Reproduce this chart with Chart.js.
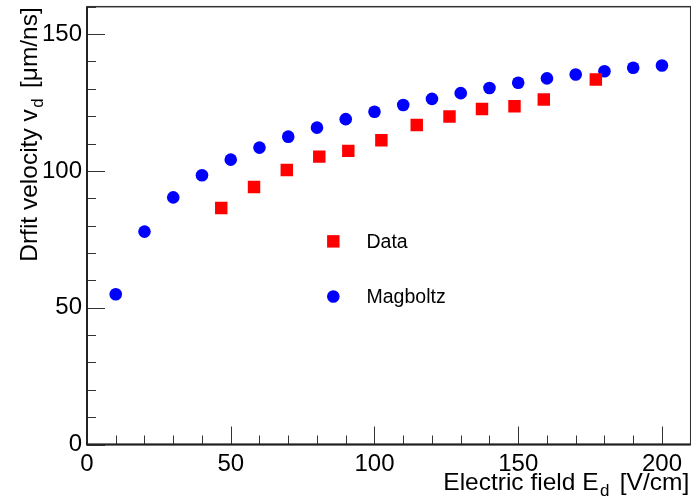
<!DOCTYPE html>
<html>
<head>
<meta charset="utf-8">
<script src="https://cdn.jsdelivr.net/npm/chart.js@4.4.1/dist/chart.umd.min.js"></script>
<style>
  html, body { margin: 0; padding: 0; background: #fff; }
</style>
</head>
<body>
<canvas id="chart" width="691" height="500"></canvas>
<script>
// Magboltz simulation (blue circles)
const magField = [10, 20, 30, 40, 50, 60, 70, 80, 90, 100, 110, 120, 130, 140, 150, 160, 170, 180, 190, 200];
const magVel = [54.9, 77.8, 90.3, 98.4, 104.1, 108.5, 112.5, 115.8, 118.9, 121.6, 124.1, 126.3, 128.4, 130.3, 132.2, 133.8, 135.2, 136.4, 137.7, 138.5];

// measured data (red squares)
const dataField = [46.7, 58.1, 69.5, 80.8, 90.9, 102.4, 114.7, 126.1, 137.4, 148.7, 158.9, 177.0];
const dataVel = [86.4, 94.1, 100.3, 105.2, 107.3, 111.2, 116.8, 119.9, 122.6, 123.6, 126.1, 133.4];

const xMax = 210, yMax = 160;
const majorStep = 50, minorStep = 10;

const FONT = '"Liberation Sans", Arial, Helvetica, sans-serif';

function toPoints(xs, ys) {
    return xs.map((x, i) => ({ x: x, y: ys[i] }));
}

// ROOT-like frame with ticks drawn inside the pad
const frameTicks = {
    id: 'frameTicks',
    afterDraw(chart) {
        const ctx = chart.ctx;
        const a = chart.chartArea;
        const xs = chart.scales.x, ys = chart.scales.y;
        ctx.save();
        ctx.strokeStyle = '#333';
        ctx.lineWidth = 1.5;
        ctx.strokeRect(a.left, a.top, a.right - a.left, a.bottom - a.top);

        ctx.lineWidth = 1;
        ctx.beginPath();
        for (let v = 0; v <= xMax; v += minorStep) {
            const px = Math.round(xs.getPixelForValue(v)) + 0.5;
            const len = v % majorStep === 0 ? 18 : 9;
            ctx.moveTo(px, a.bottom);
            ctx.lineTo(px, a.bottom - len);
        }
        for (let v = 0; v <= yMax; v += minorStep) {
            const py = Math.round(ys.getPixelForValue(v)) + 0.5;
            const len = v % majorStep === 0 ? 18 : 9;
            ctx.moveTo(a.left, py);
            ctx.lineTo(a.left + len, py);
        }
        ctx.stroke();

        ctx.lineWidth = 2;
        ctx.strokeStyle = '#222';
        ctx.beginPath();
        ctx.moveTo(a.left, a.top);
        ctx.lineTo(a.left, a.bottom);
        ctx.lineTo(a.right, a.bottom);
        ctx.stroke();
        ctx.restore();
    }
};

// text with a subscript, right aligned at (0,0) in the current transform
function drawSubText(ctx, before, sub, after, size) {
    const big = size + 'px ' + FONT;
    const small = Math.round(size * 0.7) + 'px ' + FONT;
    ctx.font = big;
    const w1 = ctx.measureText(before).width;
    const w3 = ctx.measureText(after).width;
    ctx.font = small;
    const w2 = ctx.measureText(sub).width + 5;
    let x = -(w1 + w2 + w3);
    ctx.textAlign = 'left';
    ctx.textBaseline = 'alphabetic';
    ctx.font = big;
    ctx.fillText(before, x, 0);
    x += w1;
    ctx.font = small;
    ctx.fillText(sub, x + 1.5, size * 0.25);
    x += w2;
    ctx.font = big;
    ctx.fillText(after, x, 0);
}

const axisTitles = {
    id: 'axisTitles',
    afterDraw(chart) {
        const ctx = chart.ctx;
        const a = chart.chartArea;
        ctx.save();
        ctx.fillStyle = '#000';
        ctx.save();
        ctx.translate(a.right - 1.5, 489.5);
        drawSubText(ctx, 'Electric field E', 'd', ' [V/cm]', 24.5);
        ctx.restore();

        ctx.save();
        ctx.translate(37, a.top + 0.5);
        ctx.rotate(-Math.PI / 2);
        drawSubText(ctx, 'Drfit velocity v', 'd', ' [\u03bcm/ns]', 24.5);
        ctx.restore();
        ctx.restore();
    }
};

// legend placed inside the frame like the ROOT TLegend
const innerLegend = {
    id: 'innerLegend',
    afterDraw(chart) {
        const ctx = chart.ctx;
        const a = chart.chartArea;
        const w = a.right - a.left, h = a.bottom - a.top;
        const mx = a.left + 0.408 * w;
        const tx = a.left + 0.463 * w;
        const rows = [0.536, 0.662];
        ctx.save();
        chart.data.datasets.forEach((ds, i) => {
            const y = a.top + rows[i] * h;
            ctx.fillStyle = ds.backgroundColor;
            ctx.strokeStyle = ds.backgroundColor;
            Chart.helpers.drawPoint(ctx, {
                pointStyle: ds.pointStyle,
                radius: ds.pointRadius,
                borderWidth: 0,
                rotation: 0
            }, mx, y);
            ctx.fillStyle = '#000';
            ctx.font = '19.5px ' + FONT;
            ctx.textAlign = 'left';
            ctx.textBaseline = 'middle';
            ctx.fillText(ds.label, tx, y + 1);
        });
        ctx.restore();
    }
};

function noPad(s) {
    s.paddingLeft = 0;
    s.paddingRight = 0;
    s.paddingTop = 0;
    s.paddingBottom = 0;
}

new Chart(document.getElementById('chart'), {
    type: 'scatter',
    data: {
        datasets: [{
            label: 'Data',
            data: toPoints(dataField, dataVel),
            pointStyle: 'rect',
            pointRadius: 8.8,
            backgroundColor: '#ff0000',
            borderColor: '#ff0000',
            borderWidth: 0
        }, {
            label: 'Magboltz',
            data: toPoints(magField, magVel),
            pointStyle: 'circle',
            pointRadius: 6.3,
            backgroundColor: '#0000ff',
            borderColor: '#0000ff',
            borderWidth: 0
        }]
    },
    options: {
        responsive: false,
        animation: false,
        layout: { autoPadding: false, padding: { top: 6.7, right: 0.3, left: 0, bottom: 0 } },
        plugins: {
            legend: { display: false },
            tooltip: { enabled: false }
        },
        scales: {
            x: {
                type: 'linear',
                min: 0,
                max: xMax,
                grid: { display: false, drawTicks: false },
                border: { display: false },
                ticks: {
                    stepSize: minorStep,
                    autoSkip: false,
                    maxRotation: 0,
                    padding: 5,
                    color: '#000',
                    font: { family: FONT, size: 24 },
                    callback: v => (v % majorStep === 0 ? String(v) : '')
                },
                afterFit: s => { s.height = 55.5; noPad(s); }
            },
            y: {
                type: 'linear',
                min: 0,
                max: yMax,
                grid: { display: false, drawTicks: false },
                border: { display: false },
                ticks: {
                    stepSize: minorStep,
                    autoSkip: false,
                    padding: 5,
                    color: '#000',
                    font: { family: FONT, size: 24 },
                    callback: v => (v % majorStep === 0 ? String(v) : '')
                },
                afterFit: s => { s.width = 87; noPad(s); }
            }
        }
    },
    plugins: [frameTicks, axisTitles, innerLegend]
});
</script>
</body>
</html>
